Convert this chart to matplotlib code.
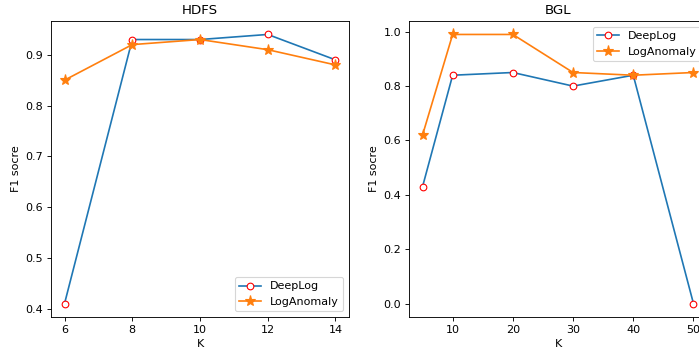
import matplotlib
matplotlib.use("Agg")
import matplotlib.pyplot as plt

# HDFS panel
hdfs_k = [6, 8, 10, 12, 14]
hdfs_deeplog = [0.41, 0.93, 0.93, 0.94, 0.89]
hdfs_loganomaly = [0.85, 0.92, 0.93, 0.91, 0.88]

# BGL panel
bgl_k = [5, 10, 20, 30, 40, 50]
bgl_deeplog = [0.43, 0.84, 0.85, 0.80, 0.84, 0.0]
bgl_loganomaly = [0.62, 0.99, 0.99, 0.85, 0.84, 0.85]

# rendered at 80 dpi so text/marker sizes match the original
fig = plt.figure(figsize=(699 / 80, 354 / 80), dpi=80)
# right panel runs past the figure edge, as in the (cropped) original
ax1 = fig.add_axes([51 / 699, 37 / 354, 298 / 699, 296 / 354])
ax2 = fig.add_axes([409 / 699, 37 / 354, 298 / 699, 296 / 354])


def draw(ax, k, deeplog, loganomaly, title, loc):
    ax.plot(k, deeplog, marker='o', color='C0', markerfacecolor='white',
            markeredgecolor='red', label='DeepLog')
    ax.plot(k, loganomaly, marker='*', markersize=10, color='C1', label='LogAnomaly')
    ax.set_title(title)
    ax.set_xlabel("K")
    ax.set_ylabel("F1 socre")
    ax.legend(loc=loc)


draw(ax1, hdfs_k, hdfs_deeplog, hdfs_loganomaly, "HDFS", "lower right")
draw(ax2, bgl_k, bgl_deeplog, bgl_loganomaly, "BGL", "upper right")
ax1.set_xticks(hdfs_k)

fig.savefig("out.png", dpi=80)
